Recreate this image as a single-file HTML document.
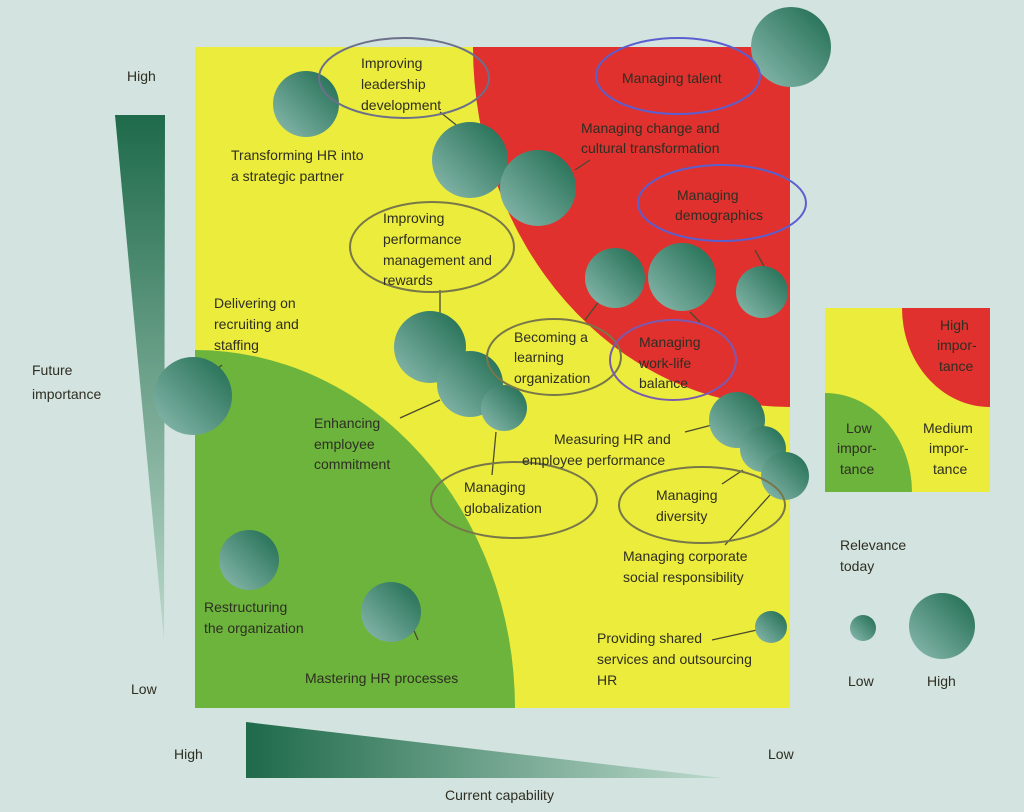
<!DOCTYPE html>
<html><head><meta charset="utf-8"><style>
html,body{margin:0;padding:0;background:#d3e3df;}
svg{display:block;}
text{font-family:"Liberation Sans",sans-serif;font-size:14px;fill:#2e2e22;}
</style></head><body>
<svg width="1024" height="812" viewBox="0 0 1024 812" xmlns="http://www.w3.org/2000/svg">
<defs>
<radialGradient id="b" cx="0.2" cy="0.15" r="1" fx="0.8" fy="0.85">
<stop offset="0" stop-color="#7fb3a6"/><stop offset="0.9" stop-color="#1f6d52"/></radialGradient>
<linearGradient id="bb" x1="1" y1="0" x2="0" y2="1">
<stop offset="0" stop-color="#1d6a4f"/><stop offset="1" stop-color="#8cbcb0"/></linearGradient>
<linearGradient id="tv" x1="0" y1="0" x2="0" y2="1"><stop offset="0" stop-color="#1e6a4a"/><stop offset="1" stop-color="#bcd9cc"/></linearGradient>
<linearGradient id="th" x1="0" y1="0" x2="1" y2="0"><stop offset="0" stop-color="#1e6a4a"/><stop offset="1" stop-color="#bcd9cc"/></linearGradient>
</defs>
<rect width="1024" height="812" fill="#d3e3df"/>
<!-- main -->
<rect x="195" y="47" width="595" height="661" fill="#ecec3c"/>
<path d="M473,47 A317,360 0 0 0 790,407 L790,47 Z" fill="#e0312f"/>
<path d="M195,350 A320,358 0 0 1 515,708 L195,708 Z" fill="#6cb43c"/>
<!-- axes -->
<polygon points="115,115 165,115 164,640" fill="url(#tv)"/>
<polygon points="246,722 246,778 722,778" fill="url(#th)"/>
<text x="127" y="81" font-size="16">High</text>
<text x="131" y="694" font-size="16">Low</text>
<text x="32" y="375" font-size="16">Future</text>
<text x="32" y="399" font-size="16">importance</text>
<text x="174" y="759" font-size="16">High</text>
<text x="768" y="759" font-size="16">Low</text>
<text x="445" y="800" font-size="16">Current capability</text>
<!-- connector lines -->
<g stroke="#4a4a30" stroke-width="1.3" fill="none">
<line x1="440" y1="112" x2="460" y2="128"/>
<line x1="575" y1="170" x2="590" y2="160"/>
<line x1="440" y1="290" x2="440" y2="315"/>
<line x1="585" y1="320" x2="600" y2="300"/>
<line x1="755" y1="250" x2="765" y2="268"/>
<line x1="690" y1="312" x2="700" y2="322"/>
<line x1="222" y1="365" x2="210" y2="375"/>
<line x1="400" y1="418" x2="440" y2="400"/>
<line x1="496" y1="432" x2="492" y2="475"/>
<line x1="685" y1="432" x2="712" y2="425"/>
<line x1="722" y1="484" x2="743" y2="470"/>
<line x1="725" y1="545" x2="770" y2="495"/>
<line x1="406" y1="612" x2="418" y2="640"/>
<line x1="712" y1="640" x2="757" y2="630"/>
</g>
<!-- bubbles -->
<g fill="url(#bb)">
<circle cx="306" cy="104" r="33"/>
<circle cx="470" cy="160" r="38"/>
<circle cx="538" cy="188" r="38"/>
<circle cx="615" cy="278" r="30"/>
<circle cx="682" cy="277" r="34"/>
<circle cx="762" cy="292" r="26"/>
<circle cx="791" cy="47" r="40"/>
<circle cx="430" cy="347" r="36"/>
<circle cx="470" cy="384" r="33"/>
<circle cx="504" cy="408" r="23"/>
<circle cx="193" cy="396" r="39"/>
<circle cx="737" cy="420" r="28"/>
<circle cx="763" cy="449" r="23"/>
<circle cx="785" cy="476" r="24"/>
<circle cx="249" cy="560" r="30"/>
<circle cx="391" cy="612" r="30"/>
<circle cx="771" cy="627" r="16"/>
<circle cx="863" cy="628" r="13"/>
<circle cx="942" cy="626" r="33"/>
</g>
<!-- ellipses -->
<g fill="none" stroke-width="2">
<ellipse cx="404" cy="78" rx="85" ry="40" stroke="#6b6f8a"/>
<ellipse cx="678" cy="76" rx="82" ry="38" stroke="#5a5fd0"/>
<ellipse cx="722" cy="203" rx="84" ry="38" stroke="#5a5fd0"/>
<ellipse cx="432" cy="247" rx="82" ry="45" stroke="#77774a"/>
<ellipse cx="554" cy="357" rx="67" ry="38" stroke="#77774a"/>
<ellipse cx="673" cy="360" rx="63" ry="40" stroke="#7a5ab0"/>
<ellipse cx="514" cy="500" rx="83" ry="38" stroke="#77774a"/>
<ellipse cx="702" cy="505" rx="83" ry="38" stroke="#77774a"/>
</g>
<!-- labels -->
<text x="361" y="68">Improving</text><text x="361" y="89">leadership</text><text x="361" y="110">development</text>
<text x="231" y="160">Transforming HR into</text><text x="231" y="181">a strategic partner</text>
<text x="622" y="83" fill="#3a1a14">Managing talent</text>
<text x="581" y="133">Managing change and</text><text x="581" y="153">cultural transformation</text>
<text x="677" y="200">Managing</text><text x="675" y="220">demographics</text>
<text x="383" y="223">Improving</text><text x="383" y="244">performance</text><text x="383" y="265">management and</text><text x="383" y="285">rewards</text>
<text x="214" y="308">Delivering on</text><text x="214" y="329">recruiting and</text><text x="214" y="350">staffing</text>
<text x="514" y="342">Becoming a</text><text x="514" y="362">learning</text><text x="514" y="383">organization</text>
<text x="639" y="347">Managing</text><text x="639" y="368">work-life</text><text x="639" y="388">balance</text>
<text x="314" y="428">Enhancing</text><text x="314" y="449">employee</text><text x="314" y="469">commitment</text>
<text x="554" y="444">Measuring HR and</text><text x="522" y="465">employee performance</text>
<text x="464" y="492">Managing</text><text x="464" y="513">globalization</text>
<text x="656" y="500">Managing</text><text x="656" y="521">diversity</text>
<text x="623" y="561">Managing corporate</text><text x="623" y="582">social responsibility</text>
<text x="204" y="612">Restructuring</text><text x="204" y="633">the organization</text>
<text x="597" y="643">Providing shared</text><text x="597" y="664">services and outsourcing</text><text x="597" y="685">HR</text>
<text x="305" y="683">Mastering HR processes</text>
<!-- legend -->
<rect x="825" y="308" width="165" height="184" fill="#ecec3c"/>
<path d="M902,308 A88,99 0 0 0 990,407 L990,308 Z" fill="#e0312f"/>
<path d="M825,393 A87,99 0 0 1 912,492 L825,492 Z" fill="#6cb43c"/>
<text x="940" y="330" font-size="13">High</text><text x="937" y="350" font-size="13">impor-</text><text x="939" y="371" font-size="13">tance</text>
<text x="846" y="433" font-size="13">Low</text><text x="837" y="453" font-size="13">impor-</text><text x="840" y="474" font-size="13">tance</text>
<text x="923" y="433" font-size="13">Medium</text><text x="929" y="453" font-size="13">impor-</text><text x="933" y="474" font-size="13">tance</text>
<text x="840" y="550" font-size="13">Relevance</text><text x="840" y="571" font-size="13">today</text>
<text x="848" y="686" font-size="13">Low</text><text x="927" y="686" font-size="13">High</text>
</svg>
</body></html>
